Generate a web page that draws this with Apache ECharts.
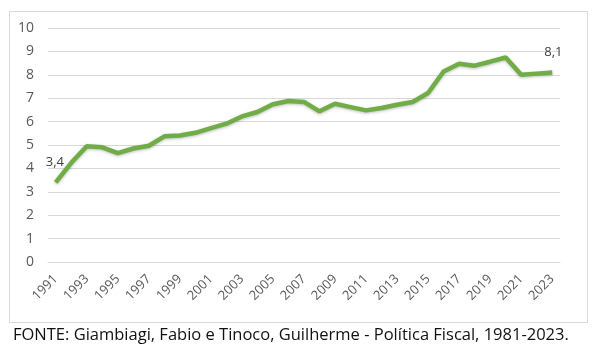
<!DOCTYPE html>
<html>
<head>
<meta charset="utf-8">
<script src="https://cdn.jsdelivr.net/npm/echarts@6/dist/echarts.min.js"></script>
<style>
  html, body { margin: 0; padding: 0; background: #fff; }
  #main { width: 593px; height: 353px; }
</style>
</head>
<body>
<div id="main"></div>
<script>
var years = ['1991','1992','1993','1994','1995','1996','1997','1998','1999','2000',
             '2001','2002','2003','2004','2005','2006','2007','2008','2009','2010',
             '2011','2012','2013','2014','2015','2016','2017','2018','2019','2020',
             '2021','2022','2023'];
var values = [3.4, 4.24, 4.95, 4.9, 4.65, 4.85, 4.97, 5.37, 5.41, 5.52,
              5.72, 5.91, 6.22, 6.41, 6.74, 6.88, 6.84, 6.44, 6.76, 6.62,
              6.48, 6.58, 6.72, 6.84, 7.22, 8.14, 8.47, 8.39, 8.56, 8.74,
              8.0, 8.05, 8.1];
var yTicks = [0, 1, 2, 3, 4, 5, 6, 7, 8, 9, 10];
var labelled = ['1991', '2023'];
var sourceText = 'FONTE: Giambiagi, Fabio e Tinoco, Guilherme - Política Fiscal, 1981-2023.';

var chart = echarts.init(document.getElementById('main'));

var seriesData = values.map(function (v, i) {
    var item = { value: v };
    if (labelled.indexOf(years[i]) >= 0) {
        item.label = {
            show: true,
            position: i === 0 ? [-10, -27] : [-8, -27],
            formatter: function (p) { return String(p.value).replace('.', ','); }
        };
    }
    return item;
});

var option = {
    animation: false,
    graphic: [
        {
            type: 'rect',
            left: 7, top: 9,
            shape: { width: 578, height: 311 },
            style: { fill: 'none', stroke: '#d9d9d9', lineWidth: 1 }
        }
    ],
    title: {
        text: sourceText,
        left: 8,
        top: 322,
        textStyle: {
            fontFamily: 'Open Sans',
            fontWeight: 'normal',
            fontSize: 16.5,
            color: '#111'
        }
    },
    grid: { left: 48, right: 33, top: 28, bottom: 91 },
    xAxis: {
        type: 'category',
        data: years,
        boundaryGap: true,
        axisLine: { show: true, lineStyle: { color: '#d9d9d9', width: 1 } },
        axisTick: { show: false },
        axisLabel: {
            interval: 1,
            rotate: 45,
            margin: 15,
            fontFamily: 'Open Sans',
            fontSize: 13,
            color: '#595959'
        }
    },
    yAxis: {
        type: 'value',
        min: yTicks[0],
        max: yTicks[yTicks.length - 1],
        interval: 1,
        axisLine: { show: false },
        axisTick: { show: false },
        splitLine: { lineStyle: { color: '#d9d9d9', width: 1 } },
        axisLabel: {
            margin: 14,
            fontFamily: 'Open Sans',
            fontSize: 14,
            color: '#595959'
        }
    },
    series: [
        {
            type: 'line',
            data: seriesData,
            symbol: 'circle',
            symbolSize: 0.1,
            showSymbol: true,
            lineStyle: {
                color: '#70ad47',
                width: 4.5,
                shadowColor: 'rgba(0,0,0,0.25)',
                shadowBlur: 3,
                shadowOffsetY: 1
            },
            itemStyle: { color: '#70ad47' },
            label: {
                fontFamily: 'Open Sans',
                fontSize: 13,
                color: '#404040'
            }
        }
    ]
};

chart.setOption(option);
</script>
</body>
</html>
